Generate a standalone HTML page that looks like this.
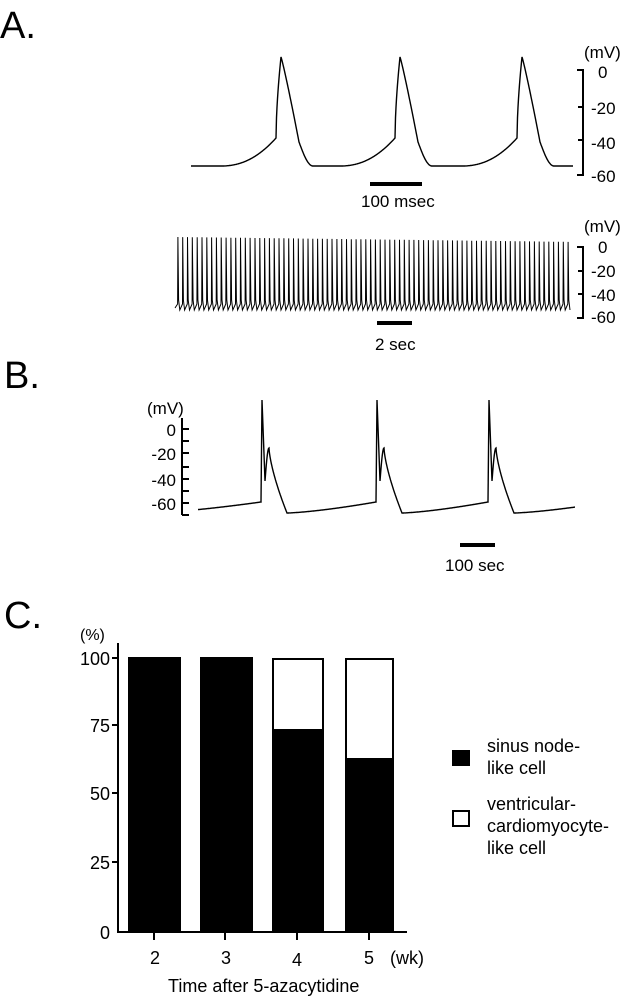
<!DOCTYPE html>
<html><head><meta charset="utf-8"><style>
html,body{margin:0;padding:0;background:#fff;}
svg{display:block;font-family:"Liberation Sans",Arial,sans-serif;}
</style></head><body>
<svg id="s" width="641" height="1000" viewBox="0 0 641 1000">
<g fill="#000">
<text x="0" y="38" font-size="38">A.</text>
<text x="4" y="388" font-size="38">B.</text>
<text x="4" y="628" font-size="38">C.</text>
</g>
<path id="a1" fill="none" stroke="#000" stroke-width="1.4"/>
<path id="a2" fill="none" stroke="#000" stroke-width="1"/>
<path id="b1" fill="none" stroke="#000" stroke-width="1.4"/>
<g stroke="#000" stroke-width="2" fill="none">
<path d="M577 70H583V175H577M583 107H578M583 140H578"/>
<path d="M577 247H583V318H577M583 271H578M583 294H578"/>
<path d="M182 418V515M182 429H189M182 441H189M182 453H189M182 467H189M182 479H189M182 491H189M182 503H189M182 515H189"/>
</g>
<g font-size="17" fill="#000">
<text x="584" y="58">(mV)</text>
<text x="598" y="78">0</text>
<text x="591" y="114">-20</text>
<text x="591" y="149">-40</text>
<text x="591" y="182">-60</text>
<text x="584" y="232">(mV)</text>
<text x="598" y="253">0</text>
<text x="591" y="277">-20</text>
<text x="591" y="301">-40</text>
<text x="591" y="323">-60</text>
<text x="147" y="414">(mV)</text>
<text x="176" y="436" text-anchor="end">0</text>
<text x="176" y="460" text-anchor="end">-20</text>
<text x="176" y="486" text-anchor="end">-40</text>
<text x="176" y="510" text-anchor="end">-60</text>
<text x="361" y="207">100 msec</text>
<text x="375" y="350">2 sec</text>
<text x="445" y="571">100 sec</text>
</g>
<rect x="370" y="182" width="52" height="4" fill="#000"/>
<rect x="377" y="321" width="35" height="4" fill="#000"/>
<rect x="460" y="543" width="35" height="4" fill="#000"/>
<g fill="#000" stroke="#000" stroke-width="2">
<rect x="129" y="658" width="51" height="274"/>
<rect x="201" y="658" width="51" height="274"/>
<rect x="273" y="730" width="50" height="202"/>
<rect x="346" y="759" width="47" height="173"/>
</g>
<g fill="none" stroke="#000" stroke-width="2">
<rect x="273" y="659" width="50" height="71"/>
<rect x="346" y="659" width="47" height="100"/>
<path d="M118 643V932H407M112 658H118M112 725H118M112 793H118M112 862H118M154 932V940M225 932V940M297 932V940M369 932V940"/>
<rect x="453" y="811" width="16" height="15"/>
</g>
<rect x="452" y="750" width="18" height="16" fill="#000"/>
<g font-size="18" fill="#000">
<text x="80" y="640" font-size="16">(%)</text>
<text x="110" y="665" text-anchor="end">100</text>
<text x="110" y="732" text-anchor="end">75</text>
<text x="110" y="800" text-anchor="end">50</text>
<text x="110" y="869" text-anchor="end">25</text>
<text x="110" y="939" text-anchor="end">0</text>
<text x="155" y="964" text-anchor="middle">2</text>
<text x="226" y="964" text-anchor="middle">3</text>
<text x="297" y="966" text-anchor="middle">4</text>
<text x="369" y="964" text-anchor="middle">5</text>
<text x="390" y="964">(wk)</text>
<text x="168" y="992">Time after 5-azacytidine</text>
<text x="487" y="752">sinus node-</text>
<text x="487" y="774">like cell</text>
<text x="487" y="810">ventricular-</text>
<text x="487" y="832">cardiomyocyte-</text>
<text x="487" y="854">like cell</text>
</g>
</svg>
<script>
function f1(x){var ps=[281,400,522],best=1e9;for(var p of ps){var dd=x-p;if(Math.abs(dd)<Math.abs(best))best=dd;}var d=best;
 if(d<-60||d>60)return 166;
 if(d<=-5){var t=(d+60)/55;return 166-28*Math.pow(t,2.2);}
 if(d<=0){var u=(d+5)/5;return 138-81*Math.pow(u,0.6);}
 if(d<=18){return 57+Math.pow(d/18,1.1)*85;}
 if(d<=32){var v=(d-18)/14;return 142+24*Math.sin(v*Math.PI/2);}
 return 166;}
var s="";for(var x=191;x<=573;x+=0.5){s+=(x==191?"M":"L")+x+" "+f1(x).toFixed(1);}
document.getElementById("a1").setAttribute("d",s);
var n=82,x0=175,x1=570,sp=(x1-x0)/n;s="M"+x0+" 308";
for(var i=0;i<n;i++){var b=x0+i*sp;s+="L"+(b+sp*0.55).toFixed(1)+" 304L"+(b+sp*0.6).toFixed(1)+" "+(237+i*0.06).toFixed(1)+"L"+(b+sp*0.75).toFixed(1)+" 300L"+(b+sp).toFixed(1)+" 310";}
document.getElementById("a2").setAttribute("d",s);
function fb(x){var ps=[262,377,489];for(var p of ps){var d=x-p;
 if(d>=-1&&d<0)return 502-(d+1)*102;
 if(d>=0&&d<3)return 400+d/3*81;
 if(d>=3&&d<7)return 481-Math.sin((d-3)/4*Math.PI/2)*33;
 if(d>=7&&d<25)return 448+Math.pow((d-7)/18,0.7)*65;}
 var prev=null;for(var p of ps)if(p<x)prev=p;var start=prev?prev+25:150;var nxt=ps.find(p=>p>x)||610;
 var t=(x-start)/(nxt-1-start);return 513-11*Math.pow(Math.max(0,t),1.4);}
s="";for(var x=198;x<=575;x+=0.25){s+=(x==198?"M":"L")+x+" "+fb(x).toFixed(1);}
document.getElementById("b1").setAttribute("d",s);
</script>
</body></html>
